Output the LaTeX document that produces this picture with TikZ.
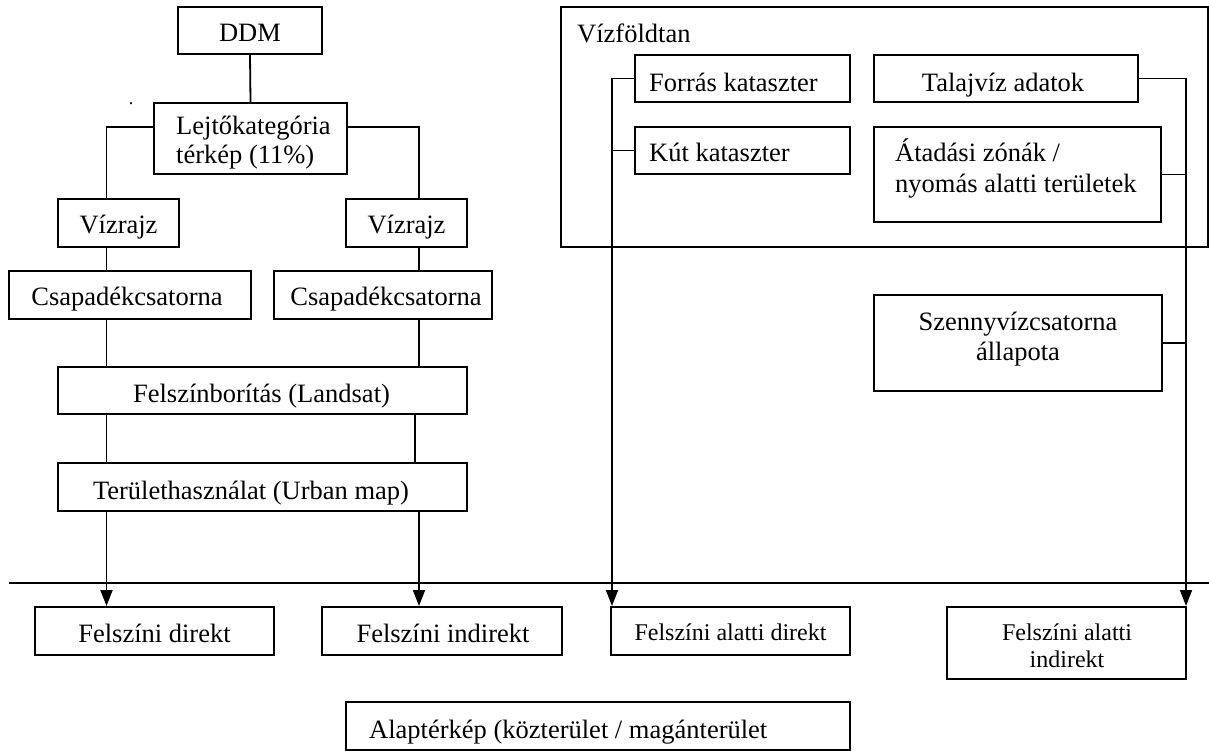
\documentclass[tikz,border=0pt]{standalone}
\usepackage{fontspec}
\setmainfont{Liberation Serif}
\usetikzlibrary{arrows.meta}
\begin{document}
\begin{tikzpicture}[x=1pt,y=-1pt,
  box/.style={draw,line width=2pt,inner sep=0pt},
  txt/.style={inner sep=0pt,anchor=base,font=\fontsize{26.5}{30}\selectfont},
  ltxt/.style={txt,anchor=base west},
  stxt/.style={inner sep=0pt,anchor=base,font=\fontsize{24}{28}\selectfont},
  conn/.style={line width=1.8pt},
  arr/.style={conn,-{Triangle[length=16pt,width=12pt]}}]
\useasboundingbox (0,0) rectangle (1209,751);
% helper coordinates
\coordinate (cA) at (106.5,0);
\coordinate (cB) at (419,0);
\coordinate (cC) at (415,0);
\coordinate (busL) at (612,0);
\coordinate (busR) at (1186,0);
\coordinate (yLej) at (0,127);
\coordinate (divL) at (9,583);
\coordinate (divR) at (1209,583);
% left tree boxes
\node[box,minimum width=144pt,minimum height=47pt] (ddm) at (250,30.5) {};
\node[txt] (ddmT) at (250,42) {DDM};
\node[inner sep=0pt,anchor=base,font=\fontsize{18}{18}\selectfont] (dot) at (131,105) {.};
\node[box,minimum width=193pt,minimum height=71pt] (lej) at (250.5,138.5) {};
\node[ltxt] (lejT1) at (176,135) {Lejtőkategória};
\node[ltxt] (lejT2) at (176,164) {térkép (11\%)};
\node[box,minimum width=121pt,minimum height=48pt] (viz1) at (118.5,223) {};
\node[txt] (viz1T) at (118.5,234) {Vízrajz};
\node[box,minimum width=121pt,minimum height=48pt] (viz2) at (406.5,223) {};
\node[txt] (viz2T) at (406.5,234) {Vízrajz};
\node[box,minimum width=242pt,minimum height=48pt] (csap1) at (130,295) {};
\node[txt] (csap1T) at (127,305) {Csapadékcsatorna};
\node[box,minimum width=218pt,minimum height=48pt] (csap2) at (383,295) {};
\node[txt] (csap2T) at (386,305) {Csapadékcsatorna};
\node[box,minimum width=409pt,minimum height=47pt] (felsz) at (262.5,390.5) {};
\node[txt] (felszT) at (261.5,402) {Felszínborítás (Landsat)};
\node[box,minimum width=409pt,minimum height=48pt] (terul) at (262.5,487) {};
\node[txt] (terulT) at (251,499) {Területhasználat (Urban map)};
% right group
\node[box,minimum width=647pt,minimum height=240pt] (vizf) at (884.5,127) {};
\node[ltxt] (vizfT) at (577,43) {Vízföldtan};
\node[box,minimum width=215pt,minimum height=47pt] (forras) at (742.5,78.5) {};
\node[ltxt] (forrasT) at (649,92) {Forrás kataszter};
\node[box,minimum width=264pt,minimum height=47pt] (talaj) at (1006,78.5) {};
\node[txt] (talajT) at (1003,92) {Talajvíz adatok};
\node[box,minimum width=215pt,minimum height=47pt] (kut) at (742.5,150.5) {};
\node[ltxt] (kutT) at (649,162) {Kút kataszter};
\node[box,minimum width=287pt,minimum height=95pt] (atad) at (1017.5,174.5) {};
\node[ltxt] (atadT1) at (895,162) {Átadási zónák /};
\node[ltxt] (atadT2) at (895,193) {nyomás alatti területek};
\node[box,minimum width=288pt,minimum height=96pt] (szenny) at (1018,343) {};
\node[txt] (szennyT1) at (1018,330) {Szennyvízcsatorna};
\node[txt] (szennyT2) at (1018,360) {állapota};
% bottom boxes
\node[box,minimum width=239pt,minimum height=48pt] (fd) at (154.5,631) {};
\node[txt] (fdT) at (154.5,642) {Felszíni direkt};
\node[box,minimum width=240pt,minimum height=48pt] (fi) at (442,631) {};
\node[txt] (fiT) at (443,642) {Felszíni indirekt};
\node[box,minimum width=239pt,minimum height=48pt] (fad) at (730.5,631) {};
\node[stxt] (fadT) at (730.5,640) {Felszíni alatti direkt};
\node[box,minimum width=239pt,minimum height=72pt] (fai) at (1066.5,643) {};
\node[stxt] (faiT1) at (1067,640) {Felszíni alatti};
\node[stxt] (faiT2) at (1067,667) {indirekt};
\node[box,minimum width=504pt,minimum height=48pt] (alap) at (598,726) {};
\node[ltxt] (alapT) at (369,738) {Alaptérkép (közterület / magánterület};
% connectors left tree
\draw[conn] (ddm.south) -- (lej.north);
\draw[conn] (lej.west |- yLej) -| (viz1.north -| cA);
\draw[conn] (lej.east |- yLej) -| (viz2.north -| cB);
\draw[conn] (viz1.south -| cA) -- (csap1.north -| cA);
\draw[conn] (viz2.south -| cB) -- (csap2.north -| cB);
\draw[conn] (csap1.south -| cA) -- (felsz.north -| cA);
\draw[conn] (csap2.south -| cB) -- (felsz.north -| cB);
\draw[conn] (felsz.south -| cA) -- (terul.north -| cA);
\draw[conn] (felsz.south -| cC) -- (terul.north -| cC);
% divider
\draw[line width=2.5pt] (divL) -- (divR);
% arrows
\draw[arr] (terul.south -| cA) -- (fd.north -| cA);
\draw[arr] (terul.south -| cB) -- (fi.north -| cB);
\draw[arr] (forras.west) -| (fad.north -| busL);
\draw[conn] (kut.west) -- (kut.west -| busL);
\draw[arr] (talaj.east) -| (fai.north -| busR);
\draw[conn] (atad.east) -- (atad.east -| busR);
\draw[conn] (szenny.east) -- (szenny.east -| busR);
\end{tikzpicture}
\end{document}
